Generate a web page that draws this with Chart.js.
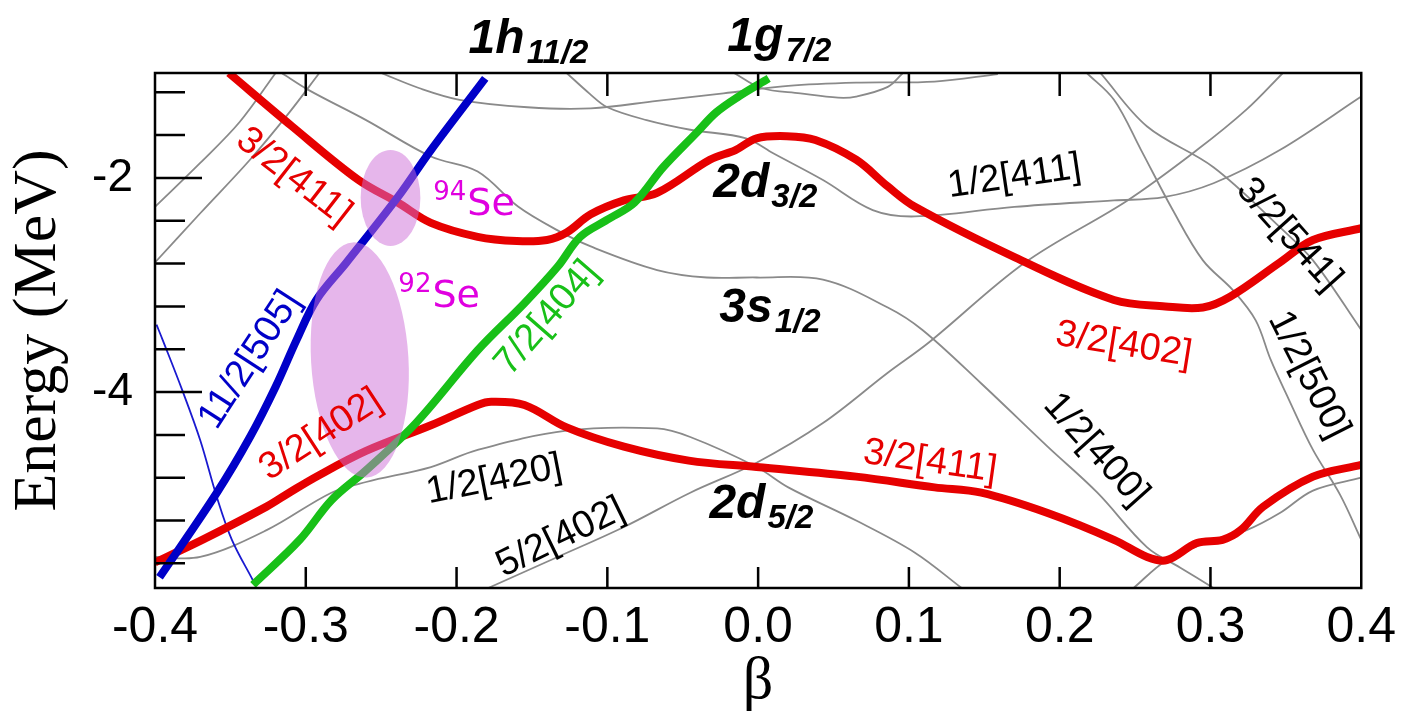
<!DOCTYPE html>
<html>
<head>
<meta charset="utf-8">
<script src="https://cdn.jsdelivr.net/npm/chart.js@4.4.1/dist/chart.umd.min.js"></script>
<style>
  html, body { margin: 0; padding: 0; background: #fff; }
  canvas { display: block; }
</style>
</head>
<body>
<canvas id="nilsson" width="1406" height="724"></canvas>
<script>
// Axis ticks
const betaTicks = [-0.4, -0.3, -0.2, -0.1, 0.0, 0.1, 0.2, 0.3, 0.4];
const energyTicks = [-5.6, -5.2, -4.8, -4.4, -4, -3.6, -3.2, -2.8, -2.4, -2, -1.6, -1.2];
const energyLabelled = [-4, -2];

// Highlighted single-particle levels, [beta, energy in MeV]
const lvl32_411 = [[-0.351,-1.02],[-0.309,-1.52],[-0.265,-2.02],[-0.239,-2.23],[-0.217,-2.42],[-0.186,-2.55],
  [-0.160,-2.59],[-0.140,-2.58],[-0.127,-2.51],[-0.111,-2.34],[-0.089,-2.21],[-0.067,-2.14],[-0.032,-1.83],
  [-0.015,-1.74],[-0.001,-1.63],[0.019,-1.61],[0.038,-1.645],[0.065,-1.83],[0.086,-2.08],[0.104,-2.27],
  [0.170,-2.74],[0.236,-3.14],[0.270,-3.20],[0.295,-3.21],[0.313,-3.11],[0.346,-2.79],[0.368,-2.58],[0.400,-2.47]];
const lvl32_402 = [[-0.400,-5.59],[-0.370,-5.39],[-0.326,-5.07],[-0.311,-4.94],[-0.293,-4.79],[-0.260,-4.55],
  [-0.217,-4.31],[-0.186,-4.12],[-0.177,-4.09],[-0.155,-4.12],[-0.127,-4.33],[-0.089,-4.51],[-0.046,-4.64],
  [-0.001,-4.70],[0.065,-4.79],[0.117,-4.89],[0.148,-4.94],[0.192,-5.13],[0.236,-5.38],[0.258,-5.54],
  [0.271,-5.57],[0.291,-5.41],[0.308,-5.38],[0.320,-5.29],[0.335,-5.07],[0.368,-4.79],[0.400,-4.68]];
const lvl112_505 = [[-0.397,-5.73],[-0.359,-4.94],[-0.337,-4.42],[-0.320,-3.95],[-0.306,-3.51],[-0.293,-3.14],
  [-0.273,-2.79],[-0.239,-2.18],[-0.217,-1.74],[-0.181,-1.07]];
const lvl72_404 = [[-0.335,-5.80],[-0.304,-5.38],[-0.283,-5.01],[-0.260,-4.73],[-0.227,-4.29],[-0.186,-3.61],
  [-0.155,-3.17],[-0.133,-2.83],[-0.118,-2.55],[-0.100,-2.39],[-0.082,-2.23],[-0.063,-1.90],[-0.041,-1.58],
  [-0.028,-1.39],[-0.013,-1.24],[0.007,-1.07]];
const lvlH11thin = [[-0.399,-3.37],[-0.395,-3.51],[-0.382,-3.98],[-0.370,-4.45],[-0.359,-4.98],[-0.349,-5.38],
  [-0.335,-5.76]];

// Other Nilsson levels
const grayA = [[-0.400,-2.27],[-0.370,-1.86],[-0.344,-1.48],[-0.320,-1.02]];
const grayB = [[-0.400,-2.79],[-0.370,-2.33],[-0.337,-1.83],[-0.311,-1.39],[-0.291,-1.02]];
const grayC = [[-0.316,-1.02],[-0.298,-1.18],[-0.260,-1.46],[-0.217,-1.80],[-0.186,-1.94],[-0.159,-2.27],
  [-0.133,-2.49],[-0.111,-2.64],[-0.067,-2.86],[-0.034,-2.93],[-0.001,-2.93],[0.043,-2.95],[0.086,-3.21],
  [0.109,-3.42],[0.148,-3.92],[0.192,-4.51],[0.225,-4.94],[0.258,-5.45],[0.280,-5.64],[0.302,-5.83]];
const grayD = [[-0.250,-1.02],[-0.225,-1.16],[-0.198,-1.27],[-0.153,-1.34],[-0.111,-1.35],[-0.067,-1.28],
  [-0.023,-1.21],[0.020,-1.14],[0.065,-1.11],[0.117,-1.10],[0.159,-1.03]];
const grayE = [[-0.127,-1.02],[-0.112,-1.21],[-0.100,-1.34],[-0.074,-1.46],[-0.045,-1.55],[-0.008,-1.63],
  [0.010,-1.77],[0.043,-2.02],[0.076,-2.30],[0.104,-2.36],[0.170,-2.27],[0.236,-2.21],[0.269,-2.18],
  [0.302,-2.05],[0.346,-1.74],[0.400,-1.24]];
const grayF = [[-0.016,-1.02],[0.002,-1.16],[0.028,-1.21],[0.053,-1.25],[0.065,-1.24],[0.086,-1.15],[0.096,-1.02]];
const grayG = [[-0.400,-5.54],[-0.370,-5.54],[-0.326,-5.29],[-0.283,-4.94],[-0.260,-4.84],[-0.217,-4.70],
  [-0.186,-4.54],[-0.127,-4.36],[-0.067,-4.34],[-0.045,-4.42],[-0.001,-4.70],[0.020,-4.89],[0.065,-5.20],
  [0.104,-5.50],[0.135,-5.83]];
const grayH = [[-0.179,-5.83],[-0.133,-5.54],[-0.089,-5.26],[-0.045,-4.94],[-0.001,-4.66],[0.043,-4.29],
  [0.086,-3.82],[0.113,-3.54],[0.177,-2.79],[0.245,-2.21],[0.291,-1.74],[0.324,-1.36],[0.348,-1.02]];
const grayI = [[0.218,-1.02],[0.236,-1.27],[0.254,-1.74],[0.275,-2.30],[0.295,-2.77],[0.315,-3.05],
  [0.330,-3.33],[0.340,-3.70],[0.352,-4.07],[0.368,-4.54],[0.386,-4.96],[0.400,-5.38]];
const grayJ = [[0.227,-1.02],[0.258,-1.52],[0.302,-1.90],[0.346,-2.46],[0.368,-2.77],[0.400,-3.42]];
const grayK = [[0.249,-5.83],[0.271,-5.57],[0.302,-5.38],[0.324,-5.29],[0.346,-5.13],[0.368,-4.92],[0.400,-4.80]];

const RED = '#e60000', BLUE = '#0000c8', GREEN = '#18c018', GRAY = '#8a8a8a', MAGENTA = '#e000e0';

function level(points, color, width) {
  return {
    data: points.map(([x, y]) => ({ x, y })),
    borderColor: color,
    borderWidth: width,
    pointRadius: 0,
    showLine: true,
    fill: false,
    tension: 0.35,
    borderCapStyle: 'butt',
    borderJoinStyle: 'round',
    clip: 0
  };
}

// First dataset is painted last (on top)
const datasets = [
  level(lvl72_404, GREEN, 8),
  level(lvl112_505, BLUE, 8),
  level(lvl32_411, RED, 8),
  level(lvl32_402, RED, 8),
  level(lvlH11thin, '#1a1ad0', 1.8),
  ...[grayA, grayB, grayC, grayD, grayE, grayF, grayG, grayH, grayI, grayJ, grayK].map(g => level(g, GRAY, 1.8))
];

// Shaded regions around the 92Se / 94Se ground-state configurations (beta, energy units)
const regions = [
  { beta: -0.2438, energy: -2.187, rBeta: 0.0198, rEnergy: 0.449, tilt: 0 },
  { beta: -0.2642, energy: -3.70, rBeta: 0.0323, rEnergy: 1.10, tilt: -3.4 }
];

// Nilsson tags along the levels
const tags = [
  { text: '3/2[411]', beta: -0.308, energy: -1.99, angle: 38, color: RED },
  { text: '11/2[505]', beta: -0.337, energy: -3.70, angle: -57, color: BLUE },
  { text: '3/2[402]', beta: -0.290, energy: -4.40, angle: -33, color: RED },
  { text: '7/2[404]', beta: -0.140, energy: -3.31, angle: -49, color: GREEN },
  { text: '1/2[420]', beta: -0.175, energy: -4.82, angle: -11, color: '#000' },
  { text: '5/2[402]', beta: -0.131, energy: -5.36, angle: -26, color: '#000' },
  { text: '1/2[411]', beta: 0.170, energy: -1.99, angle: -8.5, color: '#000' },
  { text: '3/2[541]', beta: 0.352, energy: -2.53, angle: 48, color: '#000' },
  { text: '3/2[402]', beta: 0.2425, energy: -3.56, angle: 9, color: RED },
  { text: '1/2[500]', beta: 0.365, energy: -3.84, angle: 63, color: '#000' },
  { text: '1/2[400]', beta: 0.224, energy: -4.54, angle: 48, color: '#000' },
  { text: '3/2[411]', beta: 0.114, energy: -4.65, angle: 8, color: RED }
];

// Spherical shell-model orbitals
const orbitals = [
  { main: '1h', sub: '11/2', beta: -0.192, energy: -0.83 },
  { main: '1g', sub: '7/2', beta: -0.0204, energy: -0.81 },
  { main: '2d', sub: '3/2', beta: -0.0297, energy: -2.18 },
  { main: '3s', sub: '1/2', beta: -0.0257, energy: -3.35 },
  { main: '2d', sub: '5/2', beta: -0.0323, energy: -5.18 }
];

const isotopes = [
  { mass: '94', name: 'Se', beta: -0.2155, energy: -2.35 },
  { mass: '92', name: 'Se', beta: -0.2386, energy: -3.21 }
];

const decorations = {
  id: 'decorations',
  afterDatasetsDraw(chart) {
    const { ctx, scales: { x, y } } = chart;
    ctx.save();
    ctx.fillStyle = 'rgba(205,110,215,0.5)';
    regions.forEach(r => {
      const cx = x.getPixelForValue(r.beta), cy = y.getPixelForValue(r.energy);
      const rx = Math.abs(x.getPixelForValue(r.beta + r.rBeta) - cx);
      const ry = Math.abs(y.getPixelForValue(r.energy + r.rEnergy) - cy);
      ctx.beginPath();
      ctx.ellipse(cx, cy, rx, ry, r.tilt * Math.PI / 180, 0, Math.PI * 2);
      ctx.fill();
    });
    ctx.restore();
  },
  afterDraw(chart) {
    const { ctx, chartArea: a, scales: { x, y } } = chart;
    ctx.save();
    // frame and inward ticks
    ctx.strokeStyle = '#000';
    ctx.lineWidth = 2.5;
    ctx.strokeRect(a.left, a.top, a.right - a.left, a.bottom - a.top);
    ctx.beginPath();
    energyTicks.forEach(v => {
      const p = y.getPixelForValue(v);
      const len = energyLabelled.includes(v) ? 47 : 30;
      ctx.moveTo(a.left, p); ctx.lineTo(a.left + len, p);
    });
    betaTicks.slice(1, -1).forEach(v => {
      const p = x.getPixelForValue(v);
      ctx.moveTo(p, a.bottom); ctx.lineTo(p, a.bottom - 21);
      ctx.moveTo(p, a.top); ctx.lineTo(p, a.top + 23);
    });
    ctx.stroke();

    // level tags
    ctx.font = '38px "Liberation Sans", Arial, sans-serif';
    ctx.textAlign = 'center';
    ctx.textBaseline = 'middle';
    tags.forEach(t => {
      ctx.save();
      ctx.translate(x.getPixelForValue(t.beta), y.getPixelForValue(t.energy));
      ctx.rotate(t.angle * Math.PI / 180);
      ctx.fillStyle = t.color;
      ctx.fillText(t.text, 0, 0);
      ctx.restore();
    });

    // orbital names
    ctx.textAlign = 'left';
    ctx.textBaseline = 'alphabetic';
    ctx.fillStyle = '#000';
    orbitals.forEach(o => {
      const px = x.getPixelForValue(o.beta), py = y.getPixelForValue(o.energy);
      ctx.font = 'italic bold 48px "Liberation Sans", Arial, sans-serif';
      ctx.fillText(o.main, px, py);
      const w = ctx.measureText(o.main).width;
      ctx.font = 'italic bold 33px "Liberation Sans", Arial, sans-serif';
      ctx.fillText(o.sub, px + w + 2, py + 10);
    });

    // isotope markers
    ctx.fillStyle = MAGENTA;
    isotopes.forEach(s => {
      const px = x.getPixelForValue(s.beta), py = y.getPixelForValue(s.energy);
      ctx.font = '26px "DejaVu Sans", sans-serif';
      ctx.fillText(s.mass, px, py - 15);
      const w = ctx.measureText(s.mass).width;
      ctx.font = '38px "DejaVu Sans", sans-serif';
      ctx.fillText(s.name, px + w + 1, py);
    });
    ctx.restore();
  }
};

new Chart(document.getElementById('nilsson'), {
  type: 'scatter',
  data: { datasets },
  options: {
    responsive: false,
    animation: false,
    events: [],
    layout: { padding: { left: 0, right: 37, top: 73, bottom: 0 } },
    plugins: { legend: { display: false }, tooltip: { enabled: false } },
    scales: {
      x: {
        type: 'linear', min: -0.4, max: 0.4,
        grid: { display: false, drawTicks: false },
        border: { display: false },
        afterBuildTicks: s => { s.ticks = betaTicks.map(v => ({ value: v })); },
        afterFit: s => { s.height = 136; },
        ticks: {
          autoSkip: false, maxRotation: 0, padding: 10, color: '#000',
          font: { family: '"Liberation Sans", Arial, sans-serif', size: 50 },
          callback: v => Number(v).toFixed(1)
        },
        title: {
          display: true, text: 'β', color: '#000',
          font: { family: '"Liberation Serif", "Times New Roman", serif', size: 60 },
          padding: { top: 0, bottom: 6 }
        }
      },
      y: {
        type: 'linear', min: -5.83, max: -1.02,
        grid: { display: false, drawTicks: false },
        border: { display: false },
        afterBuildTicks: s => { s.ticks = energyTicks.map(v => ({ value: v })); },
        afterFit: s => { s.width = 155; },
        ticks: {
          autoSkip: false, padding: 22, color: '#000',
          font: { family: '"Liberation Sans", Arial, sans-serif', size: 46 },
          callback: v => energyLabelled.includes(v) ? String(v) : ''
        },
        title: {
          display: true, text: 'Energy (MeV)', color: '#000',
          font: { family: '"Liberation Serif", "Times New Roman", serif', size: 62 },
          padding: { top: 2, bottom: 0 }
        }
      }
    }
  },
  plugins: [decorations]
});
</script>
</body>
</html>
